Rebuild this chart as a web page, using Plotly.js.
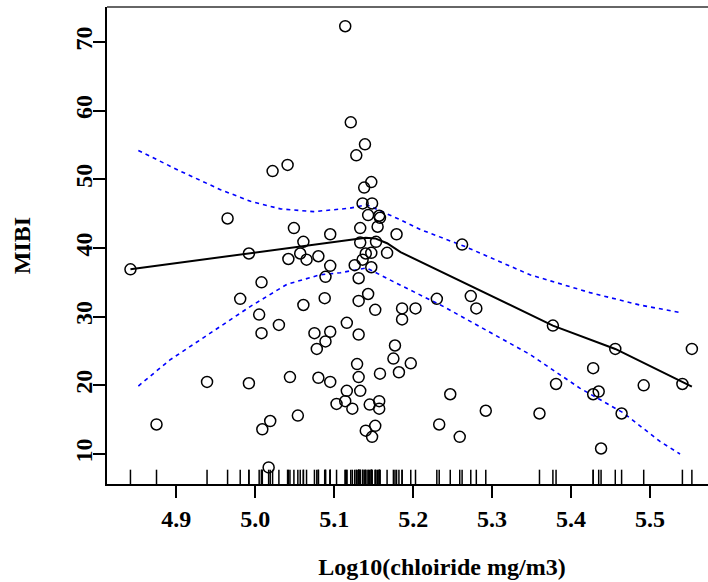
<!DOCTYPE html>
<html>
<head>
<meta charset="utf-8">
<script src="https://cdn.plot.ly/plotly-3.0.1.min.js"></script>
<style>html,body{margin:0;padding:0;background:#fff;overflow:hidden;width:708px;height:582px}#chart{width:777px;height:582px}</style>
</head>
<body>
<div id="chart"></div>
<script>
// Observed points (log10 chloride, MIBI)
const ptX = [4.842,4.875,4.939,4.965,4.981,4.992,4.992,5.005,5.008,5.008,5.009,5.017,5.019,5.022,5.030,5.041,5.042,5.044,5.049,5.054,
5.057,5.061,5.061,5.065,5.075,5.078,5.080,5.080,5.088,5.089,5.089,5.095,5.095,5.095,5.095,5.103,5.114,5.114,5.116,5.116,
5.121,5.123,5.126,5.128,5.129,5.131,5.131,5.131,5.131,5.133,5.133,5.133,5.136,5.136,5.138,5.139,5.140,5.140,5.143,5.143,
5.145,5.147,5.147,5.147,5.148,5.148,5.152,5.152,5.153,5.155,5.157,5.158,5.157,5.157,5.158,5.167,5.175,5.177,5.179,5.182,
5.186,5.186,5.197,5.203,5.230,5.233,5.247,5.259,5.262,5.273,5.280,5.292,5.360,5.377,5.381,5.428,5.428,5.435,5.438,5.456,
5.464,5.492,5.541,5.553];
const ptY = [36.9,14.3,20.5,44.3,32.6,39.2,20.3,30.3,35.0,27.6,13.6,8.05,14.8,51.2,28.8,52.1,38.4,21.2,42.9,15.6,
39.2,40.9,31.7,38.3,27.6,25.3,38.8,21.1,32.7,35.8,26.4,42.0,37.4,27.8,20.5,17.3,72.3,17.7,29.1,19.2,
58.3,16.6,37.5,53.5,23.1,35.6,32.3,27.4,21.2,42.9,40.8,19.2,38.3,46.5,48.8,55.1,39.2,13.4,44.8,33.3,
17.2,49.6,39.3,37.2,46.5,12.5,31.0,14.1,40.9,43.1,44.7,44.4,17.7,16.6,21.7,39.3,23.9,25.8,42.0,21.9,
31.2,29.6,23.2,31.2,32.6,14.3,18.7,12.5,40.5,33.0,31.2,16.3,15.9,28.7,20.2,22.5,18.7,19.1,10.8,25.3,
15.9,20.0,20.2,25.3];

// Fitted segmented line
const fitX = [4.842,5.057,5.140,5.152,5.167,5.184,5.234,5.348,5.377,5.456,5.553];
const fitY = [36.9,40.2,41.5,41.4,40.7,39.4,36.6,30.3,28.7,25.3,19.8];

// Confidence band (upper / lower)
const upX = [4.852,4.905,4.956,4.994,5.032,5.074,5.120,5.141,5.184,5.209,5.266,5.348,5.424,5.487,5.538];
const upY = [54.2,51.2,48.5,46.8,45.7,45.3,45.8,46.3,44.1,42.7,40.2,36.1,33.5,31.7,30.6];
const loX = [4.852,4.892,4.930,4.956,4.994,5.040,5.082,5.108,5.141,5.175,5.209,5.238,5.348,5.411,5.466,5.513,5.538];
const loY = [19.9,23.7,26.6,28.6,31.5,34.7,36.1,36.4,37.1,35.1,33.2,31.5,24.5,19.6,16.0,11.8,10.0];

const xTicks = [4.9,5.0,5.1,5.2,5.3,5.4,5.5];
const xTickText = ['4.9','5.0','5.1','5.2','5.3','5.4','5.5'];
const yTicks = [10,20,30,40,50,60,70];

const font = {family:'"Liberation Serif", serif', size:24, color:'#000', weight:'bold'};

const traces = [
  {x:upX, y:upY, type:'scatter', mode:'lines', line:{color:'#0000FF', width:1.6, dash:'4px,4px'}, hoverinfo:'skip'},
  {x:loX, y:loY, type:'scatter', mode:'lines', line:{color:'#0000FF', width:1.6, dash:'4px,4px'}, hoverinfo:'skip'},
  {x:fitX, y:fitY, type:'scatter', mode:'lines', line:{color:'#000', width:2}, hoverinfo:'skip'},
  {x:ptX, y:ptY, type:'scatter', mode:'markers', marker:{symbol:'circle-open', size:11, color:'#000', line:{width:1.5, color:'#000'}}}
];

const shapes = ptX.map(v => ({type:'line', xref:'x', yref:'paper', x0:v, x1:v, y0:0, y1:0.03, line:{color:'#000', width:1.5}}));
shapes.push({type:'line', xref:'paper', yref:'paper', x0:0, x1:1, y0:1, y1:1, line:{color:'#333', width:1.5}});

const layout = {
  width:777, height:582,
  margin:{l:107, r:0, t:7, b:98},
  paper_bgcolor:'#fff', plot_bgcolor:'#fff',
  showlegend:false,
  font:font,
  xaxis:{
    range:[4.8123,5.6608], tickvals:xTicks, ticktext:xTickText,
    showgrid:false, zeroline:false, showline:true, linecolor:'#000', linewidth:2,
    ticks:'outside', ticklen:12, tickwidth:2, tickcolor:'#000',
    tickfont:font, automargin:false,
    title:{text:'Log10(chloiride mg/m3)', font:font, standoff:27}
  },
  yaxis:{
    range:[5.631,75.10], tickvals:yTicks,
    showgrid:false, zeroline:false, showline:true, linecolor:'#000', linewidth:2,
    ticks:'outside', ticklen:12, tickwidth:2, tickcolor:'#000',
    tickfont:font, tickangle:-90, automargin:false, ticklabelstandoff:-9,
    title:{text:'MIBI', font:font, standoff:34}
  },
  shapes:shapes
};

Plotly.newPlot('chart', traces, layout, {staticPlot:true, displayModeBar:false});
</script>
</body>
</html>
